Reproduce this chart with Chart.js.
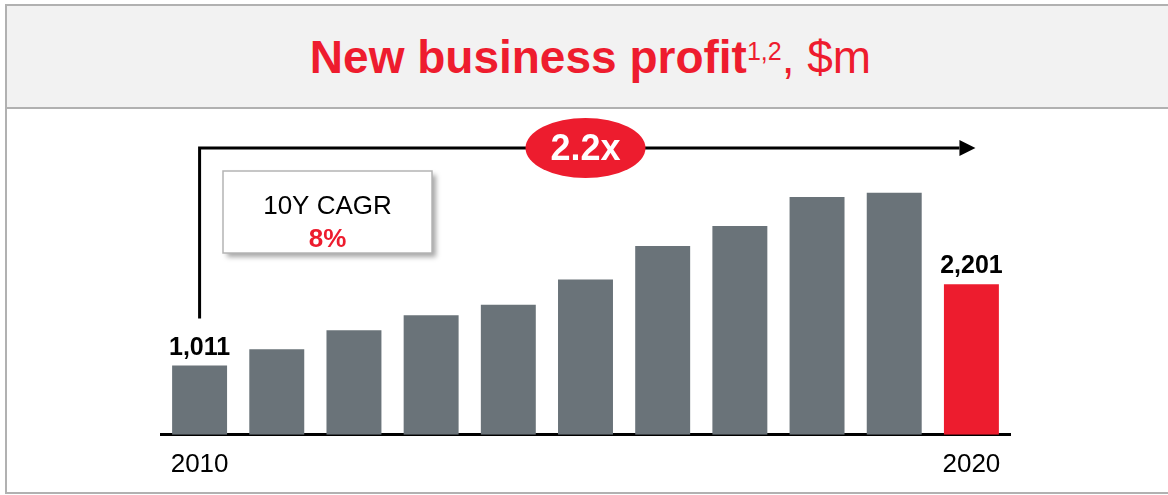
<!DOCTYPE html>
<html>
<head>
<meta charset="utf-8">
<script src="https://cdn.jsdelivr.net/npm/chart.js@4"></script>
<style>
  body { margin:0; background:#fff; font-family:"Liberation Sans", Arial, sans-serif; }
  #frame { position:absolute; left:5px; top:4px; width:1180px; height:486px; border:2px solid #b1b1b1; }
  #band { position:absolute; left:0; top:0; right:0; height:101px; background:#f2f2f2; border-bottom:2px solid #b1b1b1; }
  #title { position:absolute; left:0; top:35px; width:1168px; padding-left:13px; box-sizing:border-box;
           text-align:center; font-size:46px; line-height:45px; color:#ee1c2e; white-space:nowrap; }
  #title b { font-weight:bold; }
  #title sup { font-size:25px; vertical-align:13px; line-height:0; }
  #chart { position:absolute; left:0; top:0; }
</style>
</head>
<body>
<div id="frame"><div id="band"></div></div>
<div id="title"><b>New business profit</b><sup>1,2</sup>, $m</div>
<canvas id="chart" width="1168" height="495"></canvas>
<script>
// New business profit, $m (2010-2020)
const years = ['2010','2011','2012','2013','2014','2015','2016','2017','2018','2019','2020'];
const profit = [1011, 1250, 1528, 1745, 1900, 2268, 2758, 3052, 3475, 3535, 2201];
const barColors = ['#6a7379','#6a7379','#6a7379','#6a7379','#6a7379','#6a7379','#6a7379','#6a7379','#6a7379','#6a7379','#ed1c2e'];
const multiple = '2.2x';
const cagrLabel = '10Y CAGR';
const cagrValue = '8%';

const FONT = '"Liberation Sans", Arial, sans-serif';

const overlay = {
    id: 'overlay',
    afterDatasetsDraw(chart) {
        const ctx = chart.ctx;
        const bars = chart.getDatasetMeta(0).data;
        const first = bars[0], last = bars[bars.length - 1];
        ctx.save();

        // value labels on first and last bar
        ctx.font = 'bold 25px ' + FONT;
        ctx.fillStyle = '#000';
        ctx.textAlign = 'center';
        ctx.textBaseline = 'alphabetic';
        [0, bars.length - 1].forEach(i => {
            ctx.fillText(profit[i].toLocaleString('en-US'), bars[i].x, bars[i].y - 11);
        });

        // growth arrow
        const lineY = 148;
        ctx.strokeStyle = '#000';
        ctx.lineWidth = 3;
        ctx.beginPath();
        ctx.moveTo(first.x, first.y - 47);
        ctx.lineTo(first.x, lineY);
        ctx.lineTo(last.x - 12, lineY);
        ctx.stroke();
        ctx.fillStyle = '#000';
        ctx.beginPath();
        ctx.moveTo(last.x - 12, lineY - 8);
        ctx.lineTo(last.x + 4, lineY);
        ctx.lineTo(last.x - 12, lineY + 8);
        ctx.closePath();
        ctx.fill();

        // 2.2x badge
        const cx = (first.x + last.x) / 2;
        ctx.fillStyle = '#ed1c2e';
        ctx.beginPath();
        ctx.ellipse(cx, lineY, 60, 30, 0, 0, Math.PI * 2);
        ctx.fill();
        ctx.fillStyle = '#fff';
        ctx.font = 'bold 36px ' + FONT;
        ctx.fillText(multiple, cx, lineY + 12);

        // CAGR box
        const bx = 223, by = 171, bw = 209, bh = 82;
        ctx.save();
        ctx.shadowColor = 'rgba(0,0,0,0.35)';
        ctx.shadowOffsetX = 4;
        ctx.shadowOffsetY = 4;
        ctx.shadowBlur = 5;
        ctx.fillStyle = '#fff';
        ctx.fillRect(bx, by, bw, bh);
        ctx.restore();
        ctx.strokeStyle = '#b4b4b4';
        ctx.lineWidth = 1.5;
        ctx.strokeRect(bx, by, bw, bh);
        ctx.fillStyle = '#000';
        ctx.font = '26px ' + FONT;
        ctx.fillText(cagrLabel, bx + bw / 2, 214);
        ctx.fillStyle = '#ed1c2e';
        ctx.font = 'bold 26px ' + FONT;
        ctx.fillText(cagrValue, bx + bw / 2, 246.5);

        ctx.restore();
    }
};

new Chart(document.getElementById('chart'), {
    type: 'bar',
    data: { labels: years, datasets: [{ data: profit, backgroundColor: barColors, barPercentage: 0.712, categoryPercentage: 1 }] },
    options: {
        responsive: false,
        animation: false,
        devicePixelRatio: 1,
        layout: { padding: { left: 161, right: 158, top: 161, bottom: 1 } },
        plugins: { legend: { display: false }, tooltip: { enabled: false } },
        scales: {
            x: {
                grid: { display: false, drawTicks: false },
                border: { display: true, color: '#000', width: 3 },
                ticks: {
                    autoSkip: false, maxRotation: 0, padding: 14, color: '#000',
                    font: { family: FONT, size: 26 },
                    callback: (v, i) => (i === 0 || i === years.length - 1) ? years[i] : ''
                }
            },
            y: { display: false, min: 0, max: 4000 }
        }
    },
    plugins: [overlay]
});
</script>
</body>
</html>
